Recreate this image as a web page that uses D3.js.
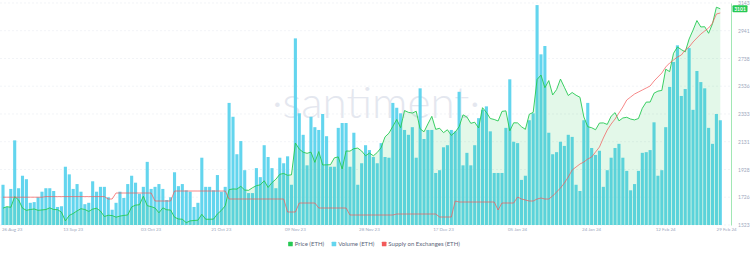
<!DOCTYPE html>
<html>
<head>
<meta charset="utf-8">
<script src="https://cdn.jsdelivr.net/npm/d3@7"></script>
<style>
  html, body { margin: 0; padding: 0; background: #fff; }
  #chart svg { display: block; font-family: Lato, "Open Sans", sans-serif; }
</style>
</head>
<body>
<div id="chart"></div>
<script>
// Daily series, one value per day starting 26 Aug 2023
const START_DATE = '2023-08-26';
const END_DATE = '2024-02-29';

const priceEth = [
  1646, 1657, 1652, 1730, 1706, 1646, 1630, 1636, 1640, 1630,
  1633, 1636, 1648, 1636, 1635, 1617, 1553, 1593, 1607, 1626,
  1642, 1636, 1622, 1639, 1645, 1625, 1585, 1594, 1592, 1580,
  1588, 1593, 1596, 1655, 1668, 1671, 1733, 1664, 1657, 1647,
  1612, 1648, 1634, 1632, 1580, 1567, 1565, 1540, 1553, 1556,
  1558, 1601, 1565, 1565, 1566, 1604, 1629, 1663, 1781, 1786,
  1785, 1805, 1778, 1776, 1795, 1810, 1816, 1846, 1797, 1832,
  1857, 1893, 1899, 1886, 1889, 2121, 2077, 2054, 2046, 2055,
  1980, 2059, 1961, 1962, 1963, 2013, 2020, 1932, 2063, 2062,
  2080, 2084, 2063, 2028, 2048, 2028, 2052, 2088, 2166, 2193,
  2243, 2293, 2233, 2358, 2345, 2340, 2353, 2225, 2203, 2261,
  2316, 2221, 2229, 2197, 2218, 2177, 2201, 2240, 2327, 2311,
  2265, 2273, 2231, 2379, 2345, 2300, 2293, 2282, 2352, 2356,
  2210, 2269, 2268, 2240, 2221, 2331, 2345, 2585, 2617, 2525,
  2577, 2472, 2511, 2588, 2528, 2468, 2490, 2470, 2455, 2311,
  2240, 2233, 2218, 2267, 2268, 2257, 2317, 2343, 2283, 2304,
  2309, 2296, 2290, 2300, 2375, 2420, 2420, 2485, 2500, 2505,
  2660, 2642, 2776, 2822, 2803, 2786, 2880, 2945, 3015, 2968,
  2970, 2922, 2992, 3112, 3101
];

// volume, billions
const volumeEth = [
  5.8, 2.6, 5.2, 12.2, 5.3, 7.1, 6.6, 3.2, 3.3, 4.0,
  4.8, 5.3, 5.3, 4.9, 2.6, 2.7, 8.4, 7.3, 5.2, 5.9,
  4.8, 3.0, 3.2, 6.3, 4.8, 5.5, 5.5, 4.0, 2.2, 3.2,
  4.8, 3.9, 5.9, 7.1, 6.1, 4.5, 5.5, 9.1, 5.2, 5.5,
  5.9, 5.2, 3.6, 4.0, 7.6, 5.6, 5.9, 5.0, 4.8, 2.6,
  3.2, 9.7, 5.5, 5.5, 5.0, 7.2, 4.8, 5.5, 17.6, 15.6,
  10.2, 12.1, 7.9, 4.6, 4.6, 8.2, 6.9, 11.5, 9.8, 8.2,
  5.3, 9.7, 8.9, 9.9, 5.8, 26.9, 16.1, 13.0, 8.6, 15.6,
  14.1, 13.7, 16.0, 12.8, 8.4, 8.4, 14.0, 14.7, 14.7, 8.4,
  13.3, 5.8, 8.9, 11.5, 10.8, 9.8, 8.9, 11.8, 9.8, 9.7,
  17.6, 16.9, 16.1, 13.7, 13.0, 14.1, 9.7, 19.7, 12.4, 13.7,
  13.7, 7.5, 7.9, 11.2, 11.5, 13.7, 13.5, 19.2, 8.6, 10.4,
  8.6, 11.5, 15.4, 16.6, 17.1, 13.5, 7.5, 7.5, 7.5, 14.0,
  21.0, 12.0, 11.8, 6.5, 7.1, 15.1, 16.1, 31.7, 24.6, 25.8,
  13.3, 10.2, 10.5, 12.0, 11.4, 13.0, 12.7, 5.8, 4.9, 15.1,
  17.6, 11.1, 10.1, 10.7, 5.5, 7.9, 9.7, 11.1, 11.7, 9.7,
  7.8, 5.0, 5.9, 7.8, 10.4, 10.5, 10.8, 14.8, 7.1, 7.9,
  14.1, 19.9, 23.5, 25.9, 18.6, 19.6, 25.5, 16.6, 22.2, 20.6,
  19.7, 14.0, 11.7, 16.0, 15.1
];

// supply on exchanges, millions
const exchangeSupply = [
  10.139, 10.139, 10.139, 10.139, 10.139, 10.139, 10.139, 10.139, 10.139, 10.139,
  10.139, 10.142, 10.142, 10.142, 10.142, 10.142, 10.142, 10.142, 10.142, 10.142,
  10.142, 10.142, 10.142, 10.142, 10.142, 10.142, 10.142, 10.130, 10.130, 10.160,
  10.160, 10.160, 10.160, 10.160, 10.160, 10.160, 10.160, 10.160, 10.160, 10.120,
  10.120, 10.120, 10.120, 10.120, 10.170, 10.170, 10.170, 10.170, 10.170, 10.170,
  10.170, 10.170, 10.170, 10.170, 10.170, 10.170, 10.170, 10.170, 10.130, 10.130,
  10.130, 10.130, 10.130, 10.130, 10.130, 10.130, 10.130, 10.130, 10.130, 10.130,
  10.130, 10.130, 10.130, 10.065, 10.065, 10.065, 10.110, 10.110, 10.110, 10.110,
  10.110, 10.085, 10.085, 10.085, 10.085, 10.085, 10.085, 10.085, 10.085, 10.050,
  10.050, 10.050, 10.050, 10.050, 10.050, 10.050, 10.050, 10.050, 10.050, 10.050,
  10.050, 10.055, 10.055, 10.055, 10.055, 10.055, 10.055, 10.055, 10.055, 10.055,
  10.055, 10.055, 10.040, 10.040, 10.040, 10.040, 10.120, 10.115, 10.115, 10.115,
  10.115, 10.115, 10.115, 10.115, 10.115, 10.115, 10.115, 10.075, 10.110, 10.110,
  10.110, 10.110, 10.140, 10.130, 10.125, 10.120, 10.120, 10.130, 10.135, 10.130,
  10.130, 10.145, 10.165, 10.185, 10.210, 10.240, 10.275, 10.290, 10.305, 10.315,
  10.330, 10.340, 10.365, 10.390, 10.435, 10.475, 10.505, 10.530, 10.560, 10.590,
  10.625, 10.640, 10.655, 10.665, 10.675, 10.685, 10.695, 10.720, 10.740, 10.760,
  10.790, 10.810, 10.825, 10.840, 10.850, 10.875, 10.890, 10.915, 10.935, 10.955,
  10.970, 10.985, 11.010, 11.055, 11.060
];

const xTickDates = [
  '2023-08-26', '2023-09-13', '2023-10-03', '2023-10-21', '2023-11-09', '2023-11-28',
  '2023-12-17', '2024-01-05', '2024-01-24', '2024-02-12', '2024-02-29'
];
const priceTicks = [1523, 1726, 1928, 2131, 2333, 2536, 2738, 2941, 3143];
const seriesNames = ['Price (ETH)', 'Volume (ETH)', 'Supply on Exchanges (ETH)'];
const watermarkText = '\u00b7santiment\u00b7';

const COLORS = {
  price: '#26c953',
  volume: '#63d5ee',
  supply: '#f25a5a',
  axisText: '#9ea8bd',
  legendText: '#5c667a',
  grid: '#e9ecf2',
  watermark: '#e4e7ef'
};

const W = 750, H = 253;
const plot = { left: 0, right: 731, top: 3, bottom: 225 };

const parseDay = d3.utcParse('%Y-%m-%d');
const start = parseDay(START_DATE);
const days = priceEth.map((_, i) => d3.utcDay.offset(start, i));

const svg = d3.select('#chart').append('svg')
  .attr('width', W)
  .attr('height', H);

// Scales
const x = d3.scaleUtc()
  .domain([start, parseDay(END_DATE)])
  .range([3, 732]);
const yPrice = d3.scaleLinear().domain([1523, 3143]).range([plot.bottom, plot.top]);
const yVolume = d3.scaleLinear().domain([0, 32]).range([plot.bottom, plot.top]);
const ySupply = d3.scaleLinear().domain([10, 11.11]).range([plot.bottom, plot.top]);

// Watermark
svg.append('text')
  .attr('x', 376)
  .attr('y', 118)
  .attr('text-anchor', 'middle')
  .attr('font-size', 44)
  .attr('font-weight', 300)
  .attr('fill', COLORS.watermark)
  .text(watermarkText);

// Grid lines at price ticks
svg.append('g')
  .selectAll('line')
  .data(priceTicks)
  .join('line')
  .attr('x1', plot.left)
  .attr('x2', plot.right)
  .attr('y1', d => yPrice(d))
  .attr('y2', d => yPrice(d))
  .attr('stroke', COLORS.grid)
  .attr('stroke-width', 0.6)
  .attr('stroke-dasharray', '2,2');

// Volume bars
const barW = 3.1;
svg.append('g')
  .selectAll('rect')
  .data(volumeEth)
  .join('rect')
  .attr('x', (d, i) => x(days[i]) - barW / 2)
  .attr('y', d => yVolume(d))
  .attr('width', barW)
  .attr('height', d => yVolume(0) - yVolume(d))
  .attr('fill', COLORS.volume);

// Price area + line
const priceArea = d3.area()
  .x((d, i) => x(days[i]))
  .y0(plot.bottom)
  .y1(d => yPrice(d));
svg.append('path')
  .datum(priceEth)
  .attr('d', priceArea)
  .attr('fill', COLORS.price)
  .attr('fill-opacity', 0.13);

const priceLine = d3.line()
  .x((d, i) => x(days[i]))
  .y(d => yPrice(d));
svg.append('path')
  .datum(priceEth)
  .attr('d', priceLine)
  .attr('fill', 'none')
  .attr('stroke', COLORS.price)
  .attr('stroke-width', 0.9);

// Supply on exchanges line
const supplyLine = d3.line()
  .x((d, i) => x(days[i]))
  .y(d => ySupply(d));
svg.append('path')
  .datum(exchangeSupply)
  .attr('d', supplyLine)
  .attr('fill', 'none')
  .attr('stroke', COLORS.supply)
  .attr('stroke-opacity', 0.8)
  .attr('stroke-width', 0.9);

// Right price axis
const yAxis = svg.append('g')
  .attr('transform', `translate(${plot.right},0)`)
  .call(d3.axisRight(yPrice).tickValues(priceTicks).tickSize(0).tickPadding(7).tickFormat(d3.format('d')));
yAxis.select('.domain').attr('stroke', COLORS.price).attr('stroke-opacity', 0.55).attr('stroke-width', 0.8);
yAxis.selectAll('text').attr('font-size', 5).attr('fill', COLORS.axisText).attr('font-family', 'Lato, sans-serif');

// Last price badge
const lastPrice = priceEth[priceEth.length - 1];
const badge = svg.append('g').attr('transform', `translate(${plot.right + 1.5},${yPrice(lastPrice)})`);
badge.append('rect')
  .attr('x', 0).attr('y', -3.6)
  .attr('width', 15).attr('height', 7.2)
  .attr('rx', 1)
  .attr('fill', COLORS.price);
badge.append('text')
  .attr('x', 7.5).attr('y', 1.8)
  .attr('text-anchor', 'middle')
  .attr('font-size', 5)
  .attr('font-weight', 700)
  .attr('fill', '#fff')
  .text(d3.format('d')(lastPrice));

// Date labels
const fmtDate = d3.utcFormat('%d %b %y');
const xLabels = svg.append('g')
  .selectAll('text')
  .data(xTickDates.map(parseDay))
  .join('text')
  .attr('x', d => x(d))
  .attr('y', 230.5)
  .attr('text-anchor', 'middle')
  .attr('font-size', 4.5)
  .attr('fill', COLORS.axisText)
  .text(d => fmtDate(d));
// keep edge labels inside the frame
xLabels.each(function () {
  const bb = this.getBBox();
  if (bb.x < 2) d3.select(this).attr('x', +this.getAttribute('x') + (2 - bb.x));
  if (bb.x + bb.width > 737) d3.select(this).attr('x', +this.getAttribute('x') - (bb.x + bb.width - 737));
});

// Legend
const legendColors = [COLORS.price, COLORS.volume, COLORS.supply];
const legend = svg.append('g').attr('transform', 'translate(0,244)');
let cursor = 0;
seriesNames.forEach((name, i) => {
  const item = legend.append('g').attr('transform', `translate(${cursor},0)`);
  item.append('rect')
    .attr('x', 0).attr('y', -2.3)
    .attr('width', 4.6).attr('height', 4.6)
    .attr('rx', 0.6)
    .attr('fill', legendColors[i]);
  const t = item.append('text')
    .attr('x', 6.5).attr('y', 2.1)
    .attr('font-size', 6)
    .attr('fill', COLORS.legendText)
    .text(name);
  cursor += 6.5 + t.node().getComputedTextLength() + 7.5;
});
const legendWidth = cursor - 7.5;
legend.attr('transform', `translate(${374 - legendWidth / 2},244)`);
</script>
</body>
</html>
